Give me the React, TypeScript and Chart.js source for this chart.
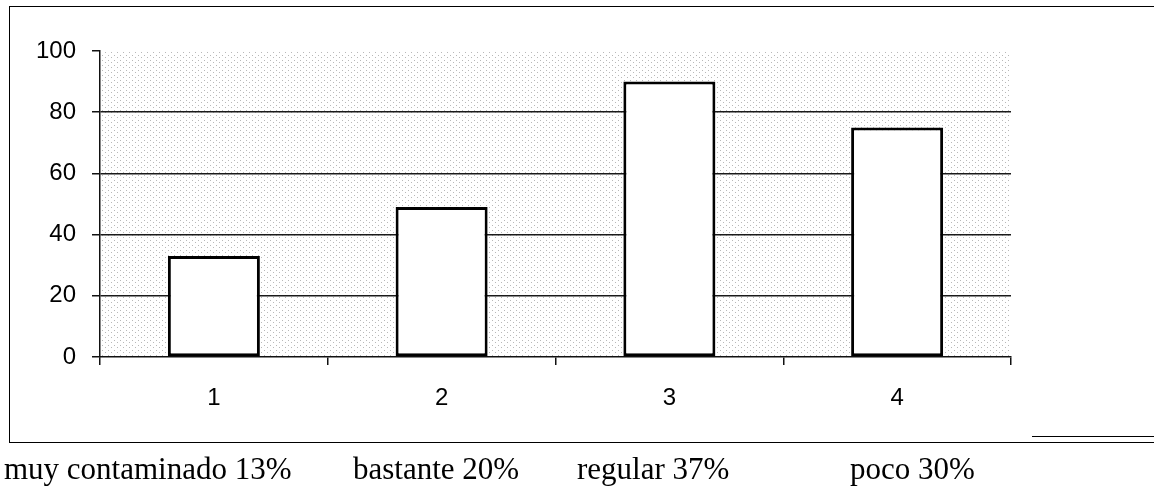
import React, { useEffect, useRef } from "react";
import { Chart, registerables } from "chart.js";

Chart.register(...registerables);

const categories = ["1", "2", "3", "4"];
const values = [33, 49, 90, 75];
const yTicks = [0, 20, 40, 60, 80, 100];
const captions = ["muy contaminado 13%", "bastante 20%", "regular 37%", "poco 30%"];
const captionLeft = [4, 353, 577, 850];

const stipple = {
  id: "stipple",
  beforeDraw(chart: any) {
    const { ctx, chartArea } = chart;
    const pc = document.createElement("canvas");
    pc.width = 6;
    pc.height = 5;
    const p = pc.getContext("2d")!;
    p.fillStyle = "#ffffff";
    p.fillRect(0, 0, 6, 5);
    p.fillStyle = "#b8b8b8";
    p.fillRect(0, 0, 1, 1);
    p.fillRect(3, 2, 1, 1);
    const pat = ctx.createPattern(pc, "repeat");
    ctx.save();
    ctx.fillStyle = pat;
    ctx.fillRect(chartArea.left, chartArea.top, chartArea.right - chartArea.left, chartArea.bottom - chartArea.top);
    ctx.restore();
  },
};

export default function App() {
  const ref = useRef<HTMLCanvasElement>(null);
  useEffect(() => {
    const chart = new Chart(ref.current!, {
      type: "bar",
      data: {
        labels: categories,
        datasets: [
          {
            data: values,
            backgroundColor: "#ffffff",
            borderColor: "#000000",
            borderWidth: 3,
            borderSkipped: false,
            categoryPercentage: 1,
            barPercentage: 0.404,
          },
        ],
      },
      options: {
        responsive: false,
        animation: false,
        devicePixelRatio: 1,
        layout: { padding: { left: 0, top: 51, right: 143, bottom: 72 } },
        plugins: { legend: { display: false }, tooltip: { enabled: false } },
        scales: {
          x: {
            afterFit: (s: any) => {
              s.height = 60;
            },
            grid: {
              offset: true,
              drawOnChartArea: false,
              drawTicks: true,
              tickLength: 8,
              tickColor: "#111",
              lineWidth: 1.5,
            },
            border: { display: true, color: "#111", width: 1.5 },
            ticks: {
              color: "#000",
              padding: 19,
              font: { family: "'Liberation Sans', Arial, sans-serif", size: 24 },
            },
          },
          y: {
            min: 0,
            max: 100,
            afterFit: (s: any) => {
              s.width = 100;
            },
            afterBuildTicks: (s: any) => {
              s.ticks = yTicks.map((v) => ({ value: v }));
            },
            grid: {
              color: (c: any) => (c.tick && (c.tick.value === 100 || c.tick.value === 0) ? "rgba(0,0,0,0)" : "#1a1a1a"),
              lineWidth: 1.5,
              tickLength: 8,
              tickColor: "#111",
            },
            border: { display: true, color: "#111", width: 1.5 },
            ticks: {
              color: "#000",
              padding: 16,
              font: { family: "'Liberation Sans', Arial, sans-serif", size: 24 },
            },
          },
        },
      },
      plugins: [stipple],
    });
    return () => chart.destroy();
  }, []);

  return (
    <div style={{ position: "fixed", left: 0, top: 0, width: 1154, height: 489, background: "#fff", overflow: "hidden" }}>
      <div
        style={{
          position: "absolute",
          left: 9,
          top: 6,
          width: 1200,
          height: 435,
          borderLeft: "1.5px solid #000",
          borderTop: "1.5px solid #000",
          borderBottom: "1.5px solid #000",
        }}
      />
      <div style={{ position: "absolute", left: 1032, top: 436, width: 122, height: 0, borderTop: "1.5px solid #000" }} />
      <canvas ref={ref} width={1154} height={489} style={{ position: "absolute", left: 0, top: 0 }} />
      {captions.map((t, i) => (
        <span
          key={i}
          style={{
            position: "absolute",
            left: captionLeft[i],
            top: 451,
            fontFamily: "'Liberation Serif', 'Times New Roman', serif",
            fontSize: 31,
            lineHeight: "36px",
            color: "#000",
            whiteSpace: "nowrap",
          }}
        >
          {t}
        </span>
      ))}
    </div>
  );
}
